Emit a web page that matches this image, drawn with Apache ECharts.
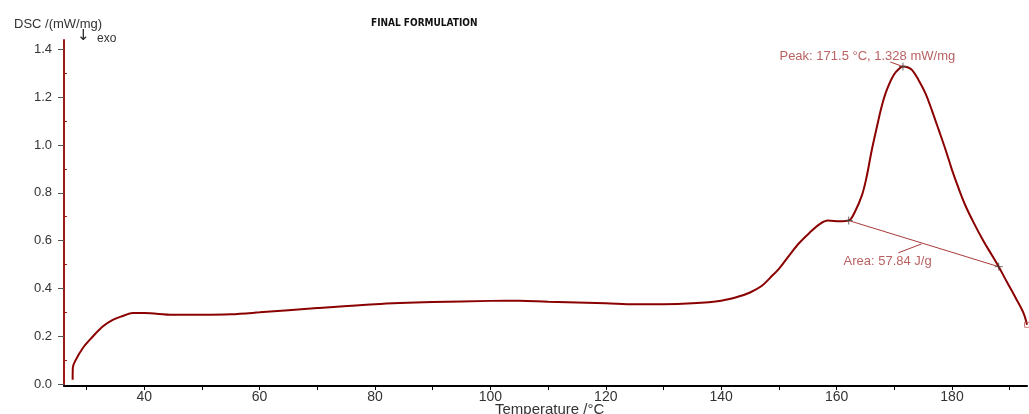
<!DOCTYPE html>
<html>
<head>
<meta charset="utf-8">
<script src="https://cdn.jsdelivr.net/npm/echarts@6/dist/echarts.min.js"></script>
<style>html,body{margin:0;padding:0;background:#fff}#c{width:1029px;height:414px}</style>
</head>
<body>
<div id="c"></div>
<script>
// ---- data ----
const temps = [27.6, 27.63, 27.98, 29.4, 31.1, 32.8, 34.55, 36.3, 38.0, 40, 45, 50, 55, 60, 70, 80, 90, 100, 105, 110, 120, 125, 130, 135, 140, 143, 145, 147, 148.5, 150, 152, 153.6, 155.2, 157.0, 158.5, 160.5, 162.1, 163.2, 164.4, 165.2, 166.1, 167.0, 167.8, 168.7, 169.9, 171.0, 171.5, 172.3, 173.1, 174.2, 175.4, 176.5, 177.7, 178.9, 180.0, 181.2, 182.3, 183.8, 185.5, 186.9, 188.1, 189.5, 191.0, 192.4, 193.0];
const dsc = [0.018, 0.068, 0.094, 0.152, 0.199, 0.241, 0.269, 0.285, 0.297, 0.297, 0.290, 0.290, 0.292, 0.300, 0.318, 0.334, 0.343, 0.348, 0.349, 0.344, 0.338, 0.334, 0.334, 0.338, 0.349, 0.366, 0.383, 0.410, 0.445, 0.482, 0.545, 0.592, 0.630, 0.668, 0.684, 0.681, 0.684, 0.722, 0.790, 0.866, 0.979, 1.077, 1.160, 1.230, 1.293, 1.322, 1.328, 1.325, 1.313, 1.272, 1.216, 1.146, 1.063, 0.979, 0.896, 0.815, 0.748, 0.673, 0.596, 0.540, 0.491, 0.428, 0.362, 0.297, 0.248];
const xLabels = [40, 60, 80, 100, 120, 140, 160, 180];
const xTicks = [30, 40, 50, 60, 70, 80, 90, 100, 110, 120, 130, 140, 150, 160, 170, 180, 190];
const yLabels = [0, 0.2, 0.4, 0.6, 0.8, 1.0, 1.2, 1.4];
const yMinorTicks = [0.1, 0.3, 0.5, 0.7, 0.9, 1.1, 1.3];
const peakPoint = [171.5, 1.328];
const baselineStart = [162.1, 0.684];
const baselineEnd = [188.1, 0.491];
const endPoint = [193.0, 0.248];
const peakText = 'Peak: 171.5 °C, 1.328 mW/mg';
const peakTextAnchor = [150.1, 1.372];
const peakLeader = [[169.3, 1.347], [171.5, 1.328]];
const areaText = 'Area: 57.84 J/g';
const areaTextAnchor = [161.2, 0.511];
const areaLeader = [[170.7, 0.549], [174.7, 0.586]];

const FONT = '"Liberation Sans", Arial, sans-serif';
const curveColor = '#8b0000';
const annColor = '#a83a3a';
const plus = 'path://M0,5L10,5M5,0L5,10';

const chart = echarts.init(document.getElementById('c'), null, {renderer: 'canvas'});
chart.setOption({
  animation: false,
  backgroundColor: '#fff',
  title: [
    {text: 'FINAL FORMULATION', left: 366, top: 13,
     textStyle: {fontFamily: '"DejaVu Sans Condensed", "DejaVu Sans", sans-serif', fontWeight: 'bold', fontSize: 10, color: '#111'}},
    {text: 'DSC /(mW/mg)', left: 9, top: 13,
     textStyle: {fontFamily: FONT, fontWeight: 'normal', fontSize: 13, color: '#333'}},
    {text: '↓', left: 72, top: 24,
     textStyle: {fontFamily: '"DejaVu Sans", sans-serif', fontWeight: 'normal', fontSize: 15, color: '#222'}},
    {text: 'exo', left: 92, top: 28,
     textStyle: {fontFamily: FONT, fontWeight: 'normal', fontSize: 12, color: '#333'}},
    {text: 'Temperature /°C', left: 490, top: 397,
     textStyle: {fontFamily: FONT, fontWeight: 'normal', fontSize: 15, color: '#333'}}
  ],
  grid: {left: 64, right: 2, top: 40, bottom: 28, containLabel: false, outerBoundsMode: 'none'},
  xAxis: {
    type: 'value', min: 26.1, max: 193.0,
    axisLine: {show: true, onZero: false, lineStyle: {color: '#000', width: 2}},
    axisTick: {show: true, length: 4, customValues: xTicks, lineStyle: {color: '#000'}},
    axisLabel: {customValues: xLabels, fontFamily: FONT, fontSize: 14, color: '#333', margin: 4},
    splitLine: {show: false}
  },
  yAxis: [{
    type: 'value', min: -0.008, max: 1.439,
    axisLine: {show: true, onZero: false, lineStyle: {color: '#a01818', width: 2}},
    axisTick: {show: true, length: 6, customValues: yLabels, lineStyle: {color: '#555'}},
    axisLabel: {customValues: yLabels, fontFamily: FONT, fontSize: 13, color: '#333', margin: 12,
      formatter: v => v.toFixed(1)},
    splitLine: {show: false}
  }, {
    type: 'value', min: -0.008, max: 1.439, position: 'left',
    axisLine: {show: false},
    axisTick: {show: true, inside: true, length: 3, customValues: yMinorTicks, lineStyle: {color: '#a01818'}},
    axisLabel: {show: false},
    splitLine: {show: false}
  }],
  series: [
    {type: 'line', data: temps.map((t, i) => [t, dsc[i]]), showSymbol: false,
     smooth: 0.35,
     lineStyle: {color: curveColor, width: 2}, z: 5},
    {type: 'line', data: [baselineStart, baselineEnd], showSymbol: false,
     lineStyle: {color: annColor, width: 1}, z: 4},
    {type: 'line', data: peakLeader, showSymbol: false, lineStyle: {color: annColor, width: 1}, z: 4},
    {type: 'line', data: areaLeader, showSymbol: false, lineStyle: {color: annColor, width: 1}, z: 4},
    {type: 'scatter', data: [peakPoint, baselineStart, baselineEnd], symbol: plus, symbolSize: 8,
     itemStyle: {color: 'none', borderColor: '#444', borderWidth: 1}, z: 6},
    {type: 'scatter', data: [endPoint], symbol: 'rect', symbolSize: 5,
     itemStyle: {color: 'none', borderColor: '#c06060', borderWidth: 1}, z: 6},
    {type: 'scatter', data: [peakTextAnchor], symbolSize: 0, z: 7,
     label: {show: true, position: [0, 0], align: 'left', verticalAlign: 'middle', formatter: peakText,
       fontFamily: FONT, fontSize: 13, color: annColor}},
    {type: 'scatter', data: [areaTextAnchor], symbolSize: 0, z: 7,
     label: {show: true, position: [0, 0], align: 'left', verticalAlign: 'middle', formatter: areaText,
       fontFamily: FONT, fontSize: 13, color: annColor}}
  ]
});
</script>
</body>
</html>
